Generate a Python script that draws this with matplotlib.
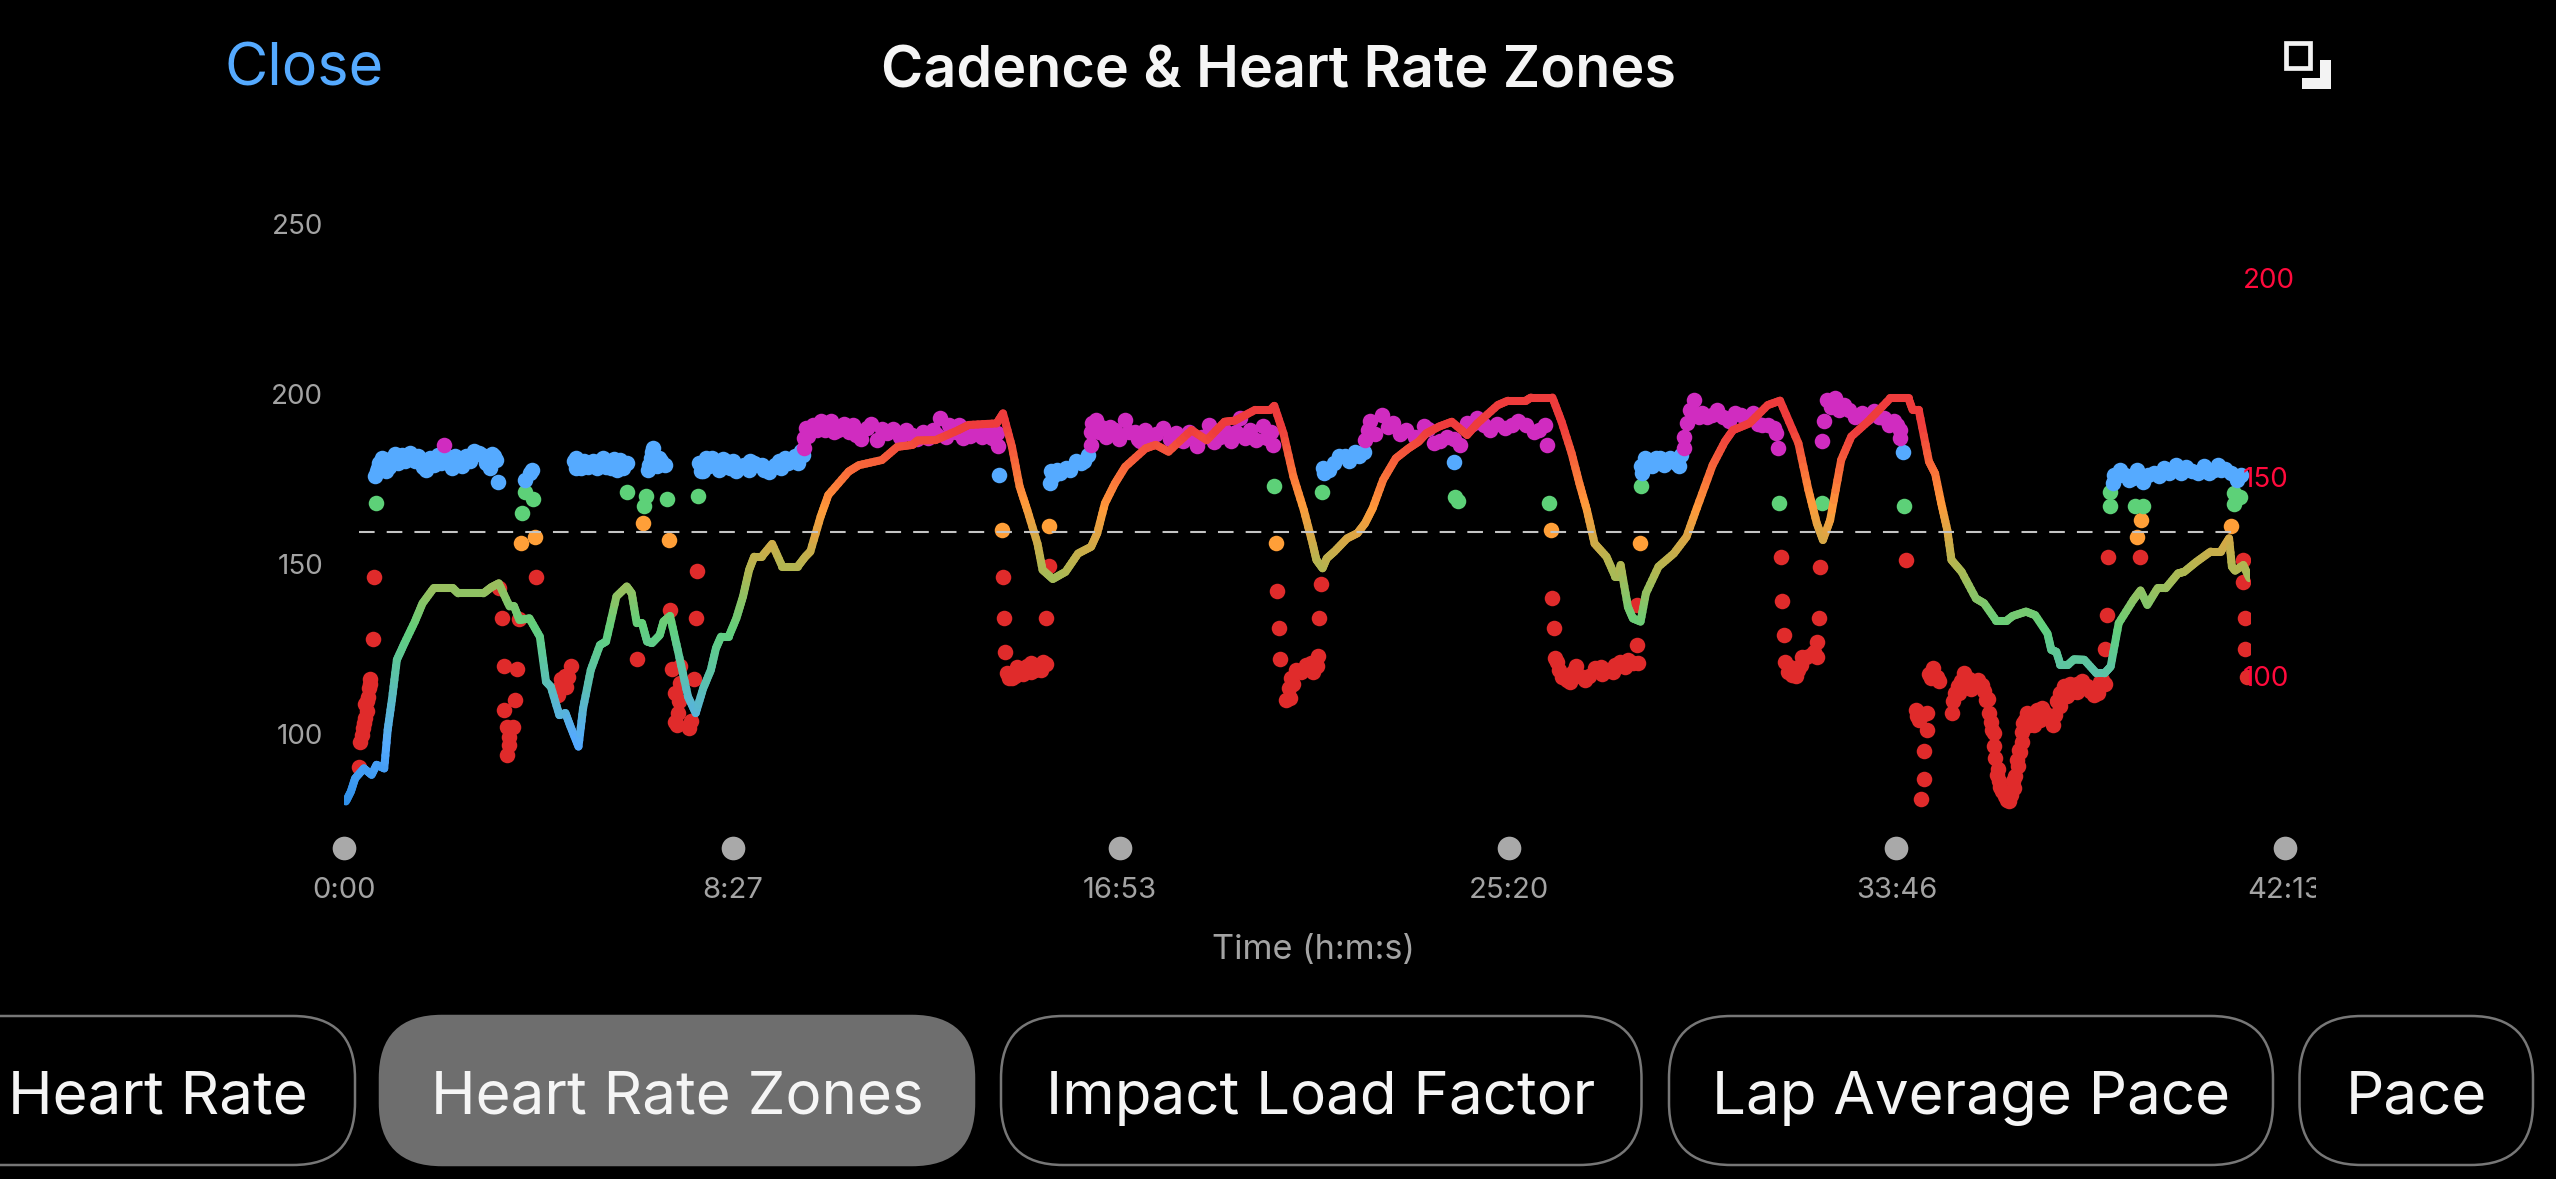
import numpy as np
import matplotlib
matplotlib.use("Agg")
import matplotlib.pyplot as plt
from matplotlib.collections import LineCollection
from matplotlib.colors import LinearSegmentedColormap, Normalize
from matplotlib.patches import FancyBboxPatch, Rectangle
from matplotlib.transforms import Affine2D, Bbox, TransformedBbox, ScaledTranslation

# ---------- data ----------
hr_time = [2.5,9,14.5,26,36,42.5,52.5,57,62.5,69,79,92.5,102.5,117,142,149,182,192,202,216,222,229,242,255.6,263.6,270,281,289,295.6,306,312,322,334,342,355.5,369,375.5,382,389,395.5,402,412,417,425.5,435.5,449,459,468.7,478.7,485.4,492,502,512,520.7,528.7,535.3,545,558.7,572,592,602,608.6,622,632,658.6,672,702,722,742,748.5,772,801.7,815,851.7,860,871.7,881.7,891.7,905,911.6,925,941.6,958,975,983,993,1006,1019.5,1046,1059.4,1076,1106,1126,1149,1162.7,1189,1209,1214,1226,1239,1252.6,1264,1269,1277,1282.5,1292.5,1309,1322.5,1332.5,1342.5,1356,1372.5,1389,1402.4,1412.4,1429,1445.7,1465.7,1479,1505.7,1519,1542.3,1549,1577,1589,1602,1612.2,1622,1632,1647.5,1659,1663.5,1666,1675.5,1682,1692,1699,1715.4,1735.4,1752,1765.4,1786,1802,1812.6,1834,1858,1874,1898,1911,1922,1930,1939.4,1953.8,1967,1988.4,2017.8,2041.7,2047,2055,2068.4,2076.4,2084.4,2092.3,2097.7,2111,2129.6,2140.3,2156.3,2169.6,2177.6,2195,2207,2223,2228,2234.6,2240,2249.5,2257.5,2271,2287,2297.5,2305.5,2316,2335,2344.4,2353.4,2366.7,2377.4,2393.4,2401.4,2417.3,2436,2449.3,2460,2463.7,2468,2478.6,2486.6]
hr_bpm = [68.2,70.7,74,76.5,74.9,77.4,76.5,86.2,93.7,103.8,108,113.4,118,121.8,121.8,120.5,120.5,122,123,117.2,117.2,113.8,114.2,109.6,98.3,97,89.9,90.4,87,82,91.6,101.2,107.5,108.4,119.7,122.2,120.5,113,113,108.4,108,110,113.4,114.8,106.3,94.5,90.4,96.6,101.2,106.7,109.6,109.6,114.2,119.7,126.4,129.7,129.7,132.9,127.2,127.2,129.7,131,139.8,145.2,151.1,152.7,154,157.3,157.8,158.9,159,161.5,162.8,163.2,165.7,157.3,147.3,141.4,133,126.4,124.1,125.9,130.5,132.2,135.6,143.1,148.1,152.3,156.9,157.8,156.1,161.5,159,163.6,163.9,166.6,166.6,167.6,160.7,149.8,141.4,133,128.9,126.8,129.3,131,134.3,135.6,138.1,141.9,149,154.4,156.9,158.6,160.7,162.4,163.6,160.3,163.2,167.8,168.9,168.9,169.7,169.7,163.6,155.7,148.1,141.4,133,129.7,124.7,124.7,127.6,117.1,114.2,113.4,120.5,127.2,130.5,134.7,141.9,152.7,158.6,161.5,163.2,167.8,168.9,158.2,146.5,138.1,133.9,138.9,154,159.9,163.6,169.5,169.5,166.6,166.6,153.6,150.6,143.1,136.4,128.9,125.9,119.2,118,113.6,113.6,114.8,115.9,115,110.4,106.3,105.8,102.5,102.5,103.9,103.8,100.4,100.4,102.1,113,118.8,121.2,117.6,121.8,121.8,125.5,125.9,128.4,131,131,134.3,127.2,126.2,127.6,124.3]

blue_t = [42.5,46,59,62.5,76,85.8,92.5,102.5,112.4,122.4,135.7,149,159,175.7,185.7,195.7,199,201,235.6,242.3,245.6,302.2,305.6,318.9,335.5,342.2,356.9,360.8,368.8,396.8,402,405.5,418.8,465.4,472,485.4,498.7,512,522,535.3,548.7,562,575.3,588.6,598.6,855,921,925.5,935,948,961.6,971,1279,1292.5,1305.9,1319,1330.5,1449,1694,1702,1712,1722,1738.7,1745.4,2034,2308,2313.5,2324,2334.8,2348,2361.4,2374.7,2390.7,2404,2420,2433.3,2445.6,2454.7,2470.6,2476,
          40,44,50,55,66,70,80,89,97,107,117,127,131,141,145,154,165,170,180,190,193,
          300,303,309,313,325,330,338,348,352,364,398,400,403,408,411,414,
          463,468,476,480,490,494,504,508,517,528,530,540,545,555,568,570,580,592,596,
          923,930,942,955,966,1277,1285,1299,1312,1325,1692,1698,1707,1717,1730,1742,
          2310,2318,2329,2340,2354,2368,2382,2397,2412,2427,2440,2450,2462]
blue_c = [177,179.4,178.2,180.9,181.9,182.4,179.9,178.4,180.9,181.9,179.4,179.4,181.4,182.4,179.4,181.4,180.4,173.8,174.5,176.5,177.3,180.9,178.4,178.4,180.4,178.4,177.4,180.4,179.4,177.4,182.8,180.4,178.9,177,180.9,178.9,179.9,177,178.9,179.4,177.4,178.9,180.9,181.4,181.9,175.8,173.5,175.5,176.5,177.4,179.4,181.9,176.5,179.4,181.4,182.8,182.8,179.7,176.5,179.4,180.9,178.9,179.4,181.9,182.6,173.5,175.5,176,175,174,176.5,178,178.9,178.4,176.5,176.5,178.9,177.6,174.5,176,
          175.5,178,181,177,182,179.5,180,180.5,181.5,177.5,179,179.5,182,178,181.5,178.5,180,183,181.8,178,182,
          180,178,178,180,180,178,181,178,180.5,178,179,181,184,178.5,181,180,
          179.5,177,178.5,181,177.5,180.5,178,180,178.5,177.5,180,178.8,179,176.8,180,178,179.5,179.5,183,
          177,177.5,178,180,180,178,177.5,181.5,180,181.5,178.5,181,178.5,181,180.8,178.5,
          176,177.5,174.5,177.5,176,175.5,176.5,176.5,177,178.5,177.5,177.5,176.5]

pink_t = [130.4,600.6,600.6,603.3,612,622,635.3,645.2,658.6,668.5,681.9,695,708.5,725,741.8,755,768.5,778.4,785,798.4,808.4,825,838.4,851.7,853.7,975,975,976,981.5,994.8,1006,1019.5,1032.8,1039.4,1052.8,1069.4,1086,1102.7,1112.7,1129,1142.7,1157.3,1169.3,1182.6,1199.3,1209.3,1212.6,1332.5,1335.8,1339,1354.5,1369,1385.8,1409,1422.4,1439,1457,1465.7,1479,1495.6,1515.6,1532.3,1552.3,1567.6,1570.2,1748.7,1748.7,1752,1760.7,1762,1772,1778.7,1791.3,1807.3,1823.3,1839.3,1850,1866,1868.6,1871.2,1929.3,1932,1935,1945.8,1951,1964.5,1980.5,1996.4,2009.8,2023,2031,2031,
          606,617,628,640,652,664,675,688,702,716,733,748,762,773,790,803,817,832,845,
          985,988,1000,1012,1025,1036,1045,1060,1078,1095,1108,1120,1136,1150,1164,1176,1190,1205,
          1345,1362,1378,1398,1415,1430,1448,1472,1488,1505,1524,1542,1560,
          1756,1768,1785,1800,1815,1830,1845,1858,1940,1957,1972,1988,2003,2016,2027]
pink_c = [184.8,183.8,186.8,189.7,190.7,191.7,191.7,189.2,188.7,187.7,189.7,186.3,188.2,187.2,187.7,188.7,189.2,192.6,187.2,188.7,186.8,189.2,189.7,188.2,184.3,184.8,188.7,191.2,192.1,187.2,189.2,192.1,188.7,185.8,187.2,189.7,188.2,188.7,184.3,190.7,187.2,185.8,192.6,189.2,190.2,188.7,184.8,186.3,189.2,191.7,193.6,191.2,189.2,190.2,185.3,187.2,184.8,191.2,192.6,189.2,189.7,191.7,188.7,190.7,184.8,183.8,187.2,191.2,194.1,198,194.1,193.1,195.1,191.7,193.6,194.1,190.7,189.7,188.2,183.8,185.8,191.9,198,198.5,195.1,195.1,194.1,194.6,192.6,191.7,189.2,186.8,
          187.5,189,189,188.5,191,190.5,186.5,190.8,189.5,189.5,189,186.5,186.8,188,190.5,190.5,187.5,187,186.8,
          188.5,190,190,186.5,188.5,186.5,189,188,186.5,186,187,187.2,185.5,188.8,188.5,186.8,186.3,186.8,
          188,190,188,187,189.5,186,186.5,190.8,190.5,191,190.5,190.5,189,
          195,193,193.5,193,194,192.5,191,190.5,195.8,196.5,193,193,193,190.5,190.5]

green_t = [41.2,232.3,235.6,246.3,369.5,392,394,422,462,1213.3,1276,1450.4,1454.4,1572.3,1692,1872.6,1928.2,2035.3,2304.4,2304.4,2337.4,2348,2466.4,2466.4,2474.3]
green_c = [167.7,164.7,170.8,168.8,170.9,166.7,169.8,168.8,169.8,172.7,170.9,169.6,168.4,167.7,172.6,167.7,167.7,166.7,171,166.7,166.7,166.7,170.6,167.4,169.6]

orange_t = [231.6,249,390.8,423.5,858.4,920.3,1216,1575,1690.8,2339.6,2344.9,2462]
orange_c = [155.9,157.7,161.8,156.7,159.8,161,155.9,159.8,155.9,157.7,162.6,161]

red_t = [19.9,21.2,25.2,27.8,27.8,31.2,32.5,34.5,37.2,38.5,202.3,205.7,209,209,212.3,213,215.7,215.7,221,223.7,225.6,229,251,279,285.6,292.2,295.6,382.2,425.5,427.5,432,432,434,435.5,436.8,438.8,438.8,450.8,453.4,457.4,458.8,460.7,859.7,861.7,863,865,871.7,881.7,891.7,901.6,911.6,916.3,919.6,1217.3,1220,1222,1229.3,1232.6,1236,1242.6,1256,1269.2,1270.6,1272,1274.5,1576,1579,1580.2,1585.6,1595.6,1607.5,1618.9,1632,1649,1665.5,1682,1686.8,1686.8,1875.5,1876.6,1878.7,1880.3,1884.5,1890,1897.9,1903.2,1913.9,1921.8,1921.8,1924.5,1925.6,2038,2051.3,2055,2058.2,2061.4,2062.5,2065.2,2065.7,2071,2073.7,2081.7,2098.7,2100.3,2105.7,2113.7,2116.3,2127,2137.6,2143,2147.2,2151,2152.6,2155.2,2157.3,2161.6,2167,2173.3,2178.7,2180.3,2183,2185.6,2189.3,2191,2196.2,2199,2209.6,2220,2228.2,2233.5,2236,2244.2,2254.8,2268,2284,2294.8,2297.5,2300.7,2301.7,2343.3,2478,2478,2480.8,2480.8,2484,
         23,26.5,29.5,30,33.5,282,288,283,290,868,876,886,896,906,909,915.5,878,897,1234,1239,1249,1262,1265,
         1583,1590,1600,1604,1613,1625,1640,1642,1656,1658,1672,1675,1689,1887,1893,1901,1908,1918,1895,
         2053,2062,2076,2079,2068,2103,2108,2110,2120,2123,2132,2140,2146,2149,2153.5,2158,2159.5,2164,2170,2176,2178,2184.5,2187,
         2190,2194,2203,2206,2213,2216,2224,2230,2240,2240,2248,2252,2262,2262,2275,2278,2289,2292,2298]
red_c = [90.1,97.6,101.5,104.5,108.7,110.8,113.3,115.9,127.7,145.9,142.7,133.9,119.7,106.9,102,93.7,99.1,96.6,102,109.7,118.9,133.6,145.9,111.3,115.3,116.7,119.9,121.8,136.3,118.9,111.8,103.5,102.5,105.9,109.4,119.7,114.8,101.6,103.8,115.9,133.9,147.8,145.9,133.9,123.9,117.7,116.2,118.7,119.7,118.7,120.9,133.9,149.2,141.8,130.9,121.8,109.7,113.3,116.2,118.7,120.2,119.7,122.8,133.9,143.9,139.7,130.9,122.1,118.7,115.7,119.7,115.7,119.2,118.7,121.1,120.6,125.9,137.8,151.8,138.9,128.8,121.1,118.2,117.2,118.7,122.6,123.1,122.6,126.8,133.9,148.9,150.9,106.9,104,80.7,86.6,94.8,100.9,106,116.2,119.2,115.3,106,109.4,113.8,117.7,114.3,114.3,114.3,109.9,106,101.1,96.2,92.7,87.8,84.4,81.5,80.3,83.9,87.6,92.2,95.2,97.6,103,106,102.5,106.9,106,104,105.5,109.4,113.8,112.3,115.3,111.3,115.7,124.9,134.7,151.8,151.8,151,144.6,133.9,124.8,116.7,
         99.5,103,106.5,109.5,114.5,113.5,117,116,113.5,116.2,117,117.5,118,119.5,118.5,120.5,119.5,120.8,110.5,114.5,118,120.8,118.2,
         121,116.5,115.2,118,117,117,119.5,117.5,118,120.2,119.5,121.5,120.8,119.5,117.5,120,122.5,124,116.8,
         105,105.8,117,116.5,117.5,112,112,115.5,116,113,115.8,112.5,110,103.5,100,89.5,86,83,80.5,81.8,86,90.5,94.5,
         100.5,104,104.5,102.5,104,107.5,104.5,102.5,112,108,111,114.5,114.5,112.3,114,112.5,112,115,114.5]

avg_hr = 135.9
avg_start, avg_end = 19.2, 2477
data_end = 2487.7

time_ticks = [0, 507, 1013, 1520, 2026, 2533]
time_labels = ["0:00", "8:27", "16:53", "25:20", "33:46", "42:13"]
cad_ticks = [100, 150, 200, 250]
hr_ticks = [100, 150, 200]
title = "Cadence & Heart Rate Zones"
close_label = "Close"
x_title = "Time (h:m:s)"
tabs = ["Heart Rate", "Heart Rate Zones", "Impact Load Factor", "Lap Average Pace", "Pace"]

# ---------- style ----------
W, H = 2556, 1179
FONT = "Inter"
GREY = "#a3a3a3"
plt.rcParams["font.family"] = [FONT, "DejaVu Sans"]

fig = plt.figure(figsize=(W / 100, H / 100), dpi=100, facecolor="black")
px = Affine2D().scale(1 / W, -1 / H).translate(0, 1) + fig.transFigure

# axes: pixel box x 344..2285, y 150..848
ax = fig.add_axes([344 / W, 1 - 848 / H, (2285 - 344) / W, (848 - 150) / H], facecolor="black")
ax.set_xlim(0, 2533)
ax.set_ylim(66.35, 271.4)
tx = ax.twinx()
tx.set_ylim(56.5, 231.9)
tx.patch.set_visible(False)
for a in (ax, tx):
    for s in a.spines.values():
        s.set_visible(False)

clip = TransformedBbox(Bbox([[0, 0], [data_end, 400]]), ax.transData)

for t, c, col in [(red_t, red_c, "#e02b2b"), (orange_t, orange_c, "#ff9f38"),
                  (green_t, green_c, "#5dd178"), (blue_t, blue_c, "#55aaff"),
                  (pink_t, pink_c, "#d02cc0")]:
    sc = ax.scatter(t, c, s=125, color=col, linewidths=0, zorder=3)
    sc.set_clip_box(clip)

# HR line with value-based gradient
cmap = LinearSegmentedColormap.from_list("hr", [
    (0.00, "#2f8fe8"), (0.15, "#55aaff"), (0.30, "#5bc0b0"), (0.43, "#62d07c"),
    (0.57, "#aeb853"), (0.65, "#d6a846"), (0.73, "#ff9a3a"), (0.82, "#f96c3a"),
    (0.92, "#ee3c3c"), (1.00, "#ee3c3c")])
norm = Normalize(68, 170)
segs, vals = [], []
for i in range(len(hr_time) - 1):
    ts = np.linspace(hr_time[i], hr_time[i + 1], 7)
    hs = np.linspace(hr_bpm[i], hr_bpm[i + 1], 7)
    for j in range(6):
        segs.append([(ts[j], hs[j]), (ts[j + 1], hs[j + 1])])
        vals.append((hs[j] + hs[j + 1]) / 2)
lc = LineCollection(segs, array=np.array(vals), cmap=cmap, norm=norm,
                    linewidths=5.8, capstyle="round", zorder=4)
tx.add_collection(lc)
lc.set_clip_box(clip)

tx.plot([avg_start, avg_end], [avg_hr, avg_hr], color="#c4c4c4", lw=1.5,
        dashes=(7.5, 5.8), zorder=5, dash_capstyle="butt")

# axis ticks
ax.set_xticks(time_ticks)
ax.set_xticklabels(time_labels)
ax.tick_params(axis="x", length=0, pad=21, labelsize=21, labelcolor=GREY)
ax.set_yticks(cad_ticks)
ax.tick_params(axis="y", length=0, pad=15, labelsize=20, labelcolor=GREY)
tx.set_yticks(hr_ticks)
tx.tick_params(axis="y", length=0, pad=-30.6, labelsize=20, labelcolor="#ff0a3c")
nudge = ScaledTranslation(0, -0.7 / 72, fig.dpi_scale_trans)
for lab in ax.get_yticklabels() + tx.get_yticklabels():
    lab.set_transform(lab.get_transform() + nudge)
ax.get_xticklabels()[-1].set_clip_box(Bbox([[0, 0], [2316, H]]))
ax.get_xticklabels()[-1].set_clip_on(True)
ax.scatter(time_ticks, [66.35] * 6, s=290, color="#a9a9a9", linewidths=0, clip_on=False, zorder=6)

# header
fig.text(1278.5, 87, title, transform=px, color="#f5f5f5", fontsize=41.4, fontweight="semibold",
         ha="center", va="baseline")
fig.text(225, 85, close_label, transform=px, color="#55aaff", fontsize=42.7, ha="left", va="baseline")
fig.add_artist(Rectangle((2285.6, 43.3), 24.4, 24.7, transform=px, fill=False, ec="#f3f3f3", lw=3.4))
fig.add_artist(Rectangle((2320.3, 60), 10.7, 29, transform=px, fc="#f3f3f3", ec="none"))
fig.add_artist(Rectangle((2301.7, 78.3), 29.3, 10.7, transform=px, fc="#f3f3f3", ec="none"))

fig.text(1314, 950, x_title, transform=px, color=GREY, fontsize=24.7, ha="center", va="center")

# selector pills
pill_x = [(-120, 355), (380, 974), (1001, 1641.5), (1669, 2273), (2299.5, 2533)]
text_x = [157.5, 677, 1321, 1971, 2416]
for i, (label, (x0, x1), tc) in enumerate(zip(tabs, pill_x, text_x)):
    on = i == 1
    y0, y1 = 1016, 1165
    r = 62
    fig.add_artist(FancyBboxPatch((x0 + r, y0 + r), x1 - x0 - 2 * r, y1 - y0 - 2 * r,
                                  boxstyle=f"round,pad={r},rounding_size={r}", transform=px,
                                  fc="#6e6e6e" if on else "black",
                                  ec="#6e6e6e" if on else "#777777", lw=1.8, mutation_aspect=1))
    fig.text(tc, 1114, label, transform=px, color="#f5f5f5", fontsize=43.3, ha="center", va="baseline")

fig.savefig("out.png", dpi=100, facecolor="black")
